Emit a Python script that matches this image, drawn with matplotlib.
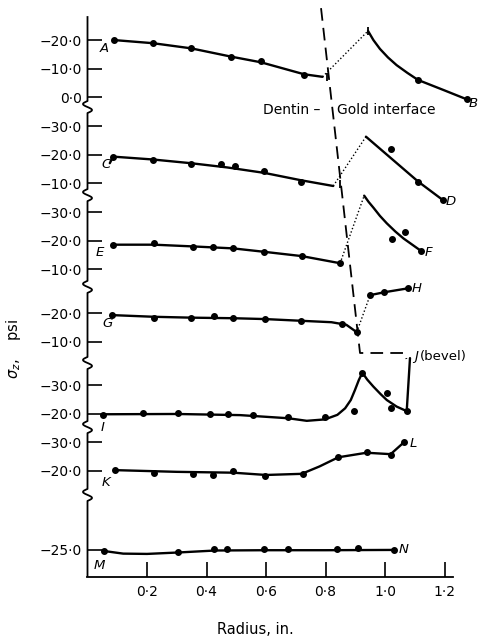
import numpy as np
import matplotlib
matplotlib.use('Agg')
import matplotlib.pyplot as plt

# ---------------- data (radius in inches, stress sigma_z in psi) ----------------
# zero level of each stacked strip on the common vertical axis
seg_base = {'AB': 168.4, 'CD': 128.2, 'EF': 98.0, 'GH': 72.5,
            'IJ': 37.3, 'KL': 17.3, 'MN': -15.5}
seg_ticks = {'AB': [-20, -10, 0], 'CD': [-30, -20, -10], 'EF': [-30, -20, -10],
             'GH': [-20, -10], 'IJ': [-30, -20], 'KL': [-30, -20], 'MN': [-25]}
breaks = [164.9, 134.0, 101.8, 75.1, 52.6, 28.8]
x_ticks = [0.2, 0.4, 0.6, 0.8, 1.0, 1.2]

# dentin side curves (markers and drawn line)
A_r = [0.089, 0.22, 0.348, 0.482, 0.583, 0.728]
A_v = [-20.0, -18.9, -17.1, -14.0, -12.7, -7.6]
A_line_r = [0.089, 0.22, 0.348, 0.482, 0.583, 0.728, 0.79]
A_line_v = [-20.0, -18.9, -17.1, -14.2, -12.2, -8.0, -7.1]

B_r = [1.111, 1.275]
B_v = [-6.0, 0.8]
B_line_r = [0.943, 0.961, 0.983, 1.01, 1.039, 1.075, 1.111, 1.196, 1.275]
B_line_v = [-23.2, -20.0, -16.9, -13.9, -11.2, -8.5, -6.0, -2.5, 0.8]

C_r = [0.086, 0.219, 0.347, 0.448, 0.496, 0.594, 0.718]
C_v = [-19.3, -18.1, -16.7, -16.6, -16.1, -14.3, -10.5]
C_line_r = [0.075, 0.086, 0.219, 0.347, 0.47, 0.594, 0.718, 0.826]
C_line_v = [-17.0, -19.3, -18.3, -17.0, -15.5, -13.6, -11.0, -9.0]

D_r = [1.019, 1.112, 1.194]
D_v = [-22.0, -10.5, -4.1]
D_line_r = [0.936, 1.112, 1.194]
D_line_v = [-26.3, -10.5, -4.1]

E_r = [0.085, 0.224, 0.353, 0.423, 0.49, 0.594, 0.72, 0.849]
E_v = [-18.5, -19.1, -17.9, -17.7, -17.3, -16.1, -14.6, -12.1]
E_line_r = [0.085, 0.224, 0.353, 0.49, 0.594, 0.72, 0.849]
E_line_v = [-18.6, -18.6, -18.0, -17.3, -16.1, -14.6, -12.1]

F_r = [1.023, 1.067, 1.12]
F_v = [-20.5, -23.2, -16.5]
F_line_r = [0.93, 0.945, 0.961, 0.983, 1.006, 1.035, 1.062, 1.12]
F_line_v = [-35.8, -33.6, -31.6, -28.7, -26.1, -23.2, -20.8, -16.5]

G_r = [0.081, 0.224, 0.347, 0.425, 0.49, 0.597, 0.718, 0.854, 0.905]
G_v = [-19.4, -18.3, -18.3, -19.1, -18.3, -18.0, -17.3, -16.3, -13.4]
G_line_r = [0.081, 0.224, 0.347, 0.49, 0.597, 0.718, 0.82, 0.87, 0.905]
G_line_v = [-19.4, -18.8, -18.5, -18.3, -18.0, -17.4, -16.9, -16.0, -13.4]

H_r = [0.95, 0.997, 1.078]
H_v = [-26.4, -27.4, -28.8]

I_r = [0.053, 0.188, 0.305, 0.412, 0.471, 0.557, 0.675, 0.798, 0.897, 0.922,
       1.006, 1.019, 1.073]
I_v = [-19.6, -20.3, -20.3, -19.9, -19.9, -19.5, -18.7, -18.9, -20.9, -34.4,
       -27.2, -21.9, -20.9]
I_line_r = [0.053, 0.3, 0.513, 0.675, 0.737, 0.798, 0.84, 0.866, 0.885, 0.899,
            0.912, 0.924, 0.94, 0.961, 0.985, 1.006, 1.039, 1.073]
I_line_v = [-19.8, -19.9, -19.5, -18.4, -17.5, -18.0, -19.6, -21.9, -24.8, -28.3,
            -31.8, -34.4, -32.0, -29.5, -26.9, -24.8, -22.5, -20.9]
J_line_r = [1.073, 1.084]
J_line_v = [-20.9, -39.5]

K_r = [0.092, 0.224, 0.354, 0.421, 0.49, 0.597, 0.723, 0.843, 0.938, 1.019, 1.064]
K_v = [-20.2, -19.1, -18.8, -18.5, -19.9, -18.1, -18.8, -24.7, -26.5, -25.5, -30.0]
K_line_r = [0.092, 0.3, 0.49, 0.6, 0.72, 0.78, 0.843, 0.938, 1.019, 1.064]
K_line_v = [-20.2, -19.6, -19.3, -18.5, -18.9, -21.5, -24.7, -26.3, -25.8, -30.0]

M_r = [0.057, 0.305, 0.426, 0.468, 0.594, 0.675, 0.838, 0.91, 1.03]
M_v = [-24.6, -24.2, -25.3, -25.5, -25.5, -25.5, -25.5, -25.8, -25.0]
M_line_r = [0.057, 0.12, 0.2, 0.305, 0.43, 0.6, 0.8, 1.03]
M_line_v = [-24.6, -23.7, -23.6, -24.1, -24.8, -24.9, -24.9, -25.0]

# dotted links across the dentin-gold interface (start, end)
links = [('AB', [0.79, 0.943], [-7.1, -23.2]),
         ('CD', [0.826, 0.936], [-9.0, -26.3]),
         ('EF', [0.849, 0.93], [-12.1, -35.8]),
         ('GH', [0.905, 0.95], [-13.4, -26.4])]

# dentin-gold interface line (radius, stacked-axis level)
iface_r = [0.785, 0.916, 0.916, 1.067, 1.072]
iface_y = [199.6, 78.6, 78.6, 78.6, 76.5]

# curve letters (radius, psi within strip)
letters = [('A', 'AB', 0.055, -17.2), ('B', 'AB', 1.298, 2.4),
           ('C', 'CD', 0.062, -16.4), ('D', 'CD', 1.222, -3.4),
           ('E', 'EF', 0.042, -15.7), ('F', 'EF', 1.145, -16.0),
           ('G', 'GH', 0.066, -16.6), ('H', 'GH', 1.108, -28.6),
           ('I', 'IJ', 0.052, -15.3), ('J', 'IJ', 1.105, -40.2),
           ('K', 'KL', 0.062, -15.7), ('L', 'KL', 1.094, -29.7),
           ('M', 'MN', 0.039, -19.7), ('N', 'MN', 1.061, -25.3)]


def Y(seg, v):
    return seg_base[seg] - np.asarray(v, dtype=float)


def fmt(v):
    s = f"{abs(v):.1f}".replace('.', '\u00b7')
    return ('\u2212' if v < 0 else '') + s


# ---------------- figure ----------------
plt.rcParams['font.family'] = ['DejaVu Sans']
fig = plt.figure(figsize=(4.85, 6.42), dpi=100)
ax = fig.add_axes([87.5 / 485, 65 / 642, 386.75 / 485, 570 / 642])
ax.set_xlim(0, 1.30)
ax.set_ylim(0, 200)
for s in ['top', 'right', 'left']:
    ax.spines[s].set_visible(False)
ax.spines['bottom'].set_bounds(0, 1.23)
ax.spines['bottom'].set_linewidth(1.3)

# left axis drawn with break squiggles
px_r = 1 / 297.5      # one pixel in radius units
px_y = 1 / 2.85       # one pixel in axis units
spine_top = 196.8
pts_x, pts_y = [0.0], [0.0]
for b in sorted(breaks):
    t = np.linspace(0, 1, 25)
    h = 12 * px_y
    pts_x += list(4.5 * px_r * np.sin(2 * np.pi * t))
    pts_y += list(b - h / 2 + h * t)
pts_x.append(0.0)
pts_y.append(spine_top)
ax.plot(pts_x, pts_y, color='black', lw=1.3, clip_on=False, solid_capstyle='butt')

lw = 1.7
ms = 4.0
kw_line = dict(color='black', lw=lw, solid_capstyle='round', clip_on=False)
kw_dot = dict(color='black', ls='none', marker='o', ms=ms, clip_on=False)

curves = [('AB', A_line_r, A_line_v, A_r, A_v),
          ('AB', B_line_r, B_line_v, B_r, B_v),
          ('CD', C_line_r, C_line_v, C_r, C_v),
          ('CD', D_line_r, D_line_v, D_r, D_v),
          ('EF', E_line_r, E_line_v, E_r, E_v),
          ('EF', F_line_r, F_line_v, F_r, F_v),
          ('GH', G_line_r, G_line_v, G_r, G_v),
          ('GH', H_r, H_v, H_r, H_v),
          ('IJ', I_line_r, I_line_v, I_r, I_v),
          ('IJ', J_line_r, J_line_v, [], []),
          ('KL', K_line_r, K_line_v, K_r, K_v),
          ('MN', M_line_r, M_line_v, M_r, M_v)]
for seg, lr, lv, mr, mv in curves:
    ax.plot(lr, Y(seg, lv), **kw_line)
    if len(mr):
        ax.plot(mr, Y(seg, mv), **kw_dot)

for seg, lr, lv in links:
    ax.plot(lr, Y(seg, lv), color='black', lw=1.0, ls=(0, (1, 1.6)))

ax.plot(iface_r, iface_y, color='black', lw=1.3, dashes=(7, 4))

# small interface tick marks
ax.plot([0.806, 0.848, 0.943], [Y('AB', -7.1), Y('CD', -9.6), Y('AB', -23.2)],
        ls='none', marker='|', ms=6, mew=1.3, color='black')

for lab, seg, r, v in letters:
    ax.text(r, Y(seg, v), lab, fontsize=9.5, style='italic', ha='center',
            va='center', clip_on=False)
ax.text(1.118, Y('IJ', -40.2), '(bevel)', fontsize=9.5, ha='left', va='center')
ax.text(0.590, Y('AB', 4.5), 'Dentin \u2013', fontsize=10, ha='left', va='center')
ax.text(0.839, Y('AB', 4.5), 'Gold interface', fontsize=10, ha='left', va='center')

# ticks
yt, yl = [], []
for seg, vals in seg_ticks.items():
    for v in vals:
        yt.append(float(Y(seg, v)))
        yl.append(fmt(v))
ax.set_yticks(yt)
ax.set_yticklabels(yl)
ax.set_xticks(x_ticks)
ax.set_xticklabels([f"{t:.1f}".replace('.', '\u00b7') for t in x_ticks])
ax.tick_params(axis='both', direction='in', length=11, width=1.2, labelsize=10)
ax.tick_params(axis='y', pad=4)
ax.tick_params(axis='x', pad=6)

fig.text(14 / 485, 1 - 349 / 642, r'$\sigma_z$,    psi', rotation=90,
         ha='center', va='center', fontsize=10.5)
fig.text(255 / 485, 1 - 630 / 642, 'Radius, in.', ha='center', va='center',
         fontsize=10.5)

fig.savefig('out.png', dpi=100)
